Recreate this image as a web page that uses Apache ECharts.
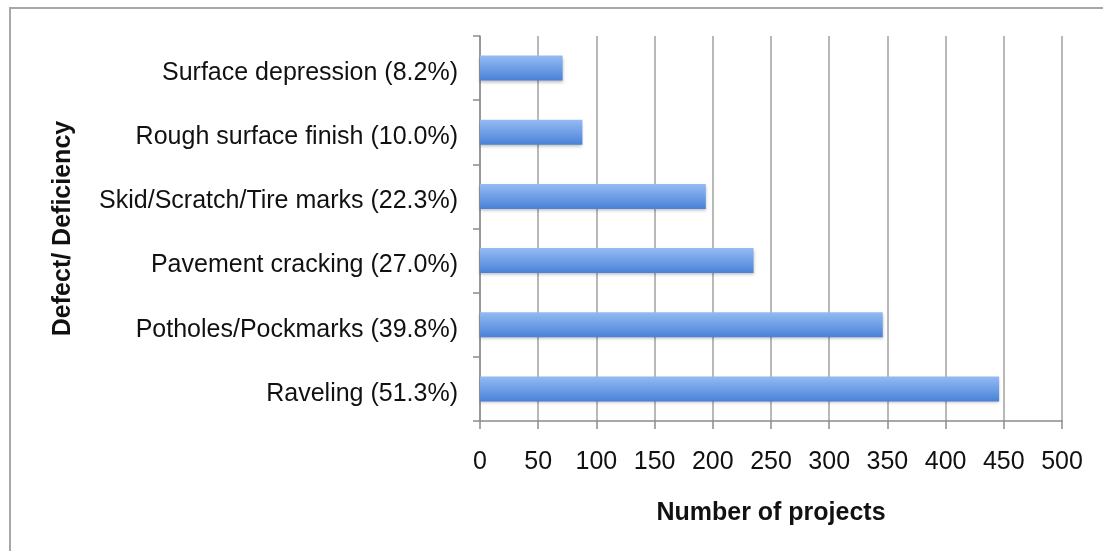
<!DOCTYPE html>
<html lang="en">
<head>
    <meta charset="UTF-8">
    <title>Defect / Deficiency</title>
    <style>
        body { margin: 0; background: #fff; }
        #chart { width: 1103px; height: 551px; }
    </style>
</head>
<body>
    <div id="chart"></div>
    <script src="https://cdn.jsdelivr.net/npm/echarts@6/dist/echarts.min.js"></script>
    <script>
        // categories top to bottom
        const categories = [
            'Surface depression (8.2%)',
            'Rough surface finish (10.0%)',
            'Skid/Scratch/Tire marks (22.3%)',
            'Pavement cracking (27.0%)',
            'Potholes/Pockmarks (39.8%)',
            'Raveling (51.3%)'
        ];
        const projects = [71, 88, 194, 235, 346, 446];
        const xTicks = [0, 500, 50];

        const chart = echarts.init(document.getElementById('chart'));
        const font = 'Liberation Sans, Arial, sans-serif';

        chart.setOption({
            animation: false,
            graphic: [{
                type: 'rect',
                shape: { x: 10, y: 8, width: 1200, height: 600 },
                style: { fill: 'none', stroke: '#a8a8a8', lineWidth: 2 }
            }],
            grid: { left: 480, right: 41, top: 36, bottom: 130 },
            xAxis: {
                type: 'value',
                min: xTicks[0], max: xTicks[1], interval: xTicks[2],
                name: 'Number of projects',
                nameLocation: 'middle',
                nameGap: 80,
                nameTextStyle: { fontFamily: font, fontSize: 25, fontWeight: 'bold', color: '#111' },
                axisLine: { show: true, lineStyle: { color: '#8c8c8c', width: 1.5 } },
                axisTick: { show: true, length: 8, lineStyle: { color: '#8c8c8c', width: 1.5 } },
                axisLabel: { fontFamily: font, fontSize: 25, color: '#111', margin: 29 },
                splitLine: { show: true, lineStyle: { color: '#a0a0a0', width: 1.5 } }
            },
            yAxis: {
                type: 'category',
                data: categories,
                inverse: true,
                name: 'Defect/ Deficiency',
                nameLocation: 'middle',
                nameGap: 404,
                nameRotate: 90,
                nameTextStyle: { fontFamily: font, fontSize: 25, fontWeight: 'bold', color: '#111' },
                axisLine: { show: true, lineStyle: { color: '#8c8c8c', width: 1.5 } },
                axisTick: { show: true, length: 7, lineStyle: { color: '#8c8c8c', width: 1.5 } },
                axisLabel: {
                    margin: 22,
                    formatter: function (v) { return '{a|' + v + '}'; },
                    rich: {
                        a: { fontFamily: font, fontSize: 25, color: '#111', padding: [10, 0, 0, 0] }
                    }
                },
                splitLine: { show: false }
            },
            series: [{
                type: 'bar',
                data: projects,
                barWidth: 25,
                itemStyle: {
                    color: new echarts.graphic.LinearGradient(0, 0, 0, 1, [
                        { offset: 0, color: '#94bbf3' },
                        { offset: 0.5, color: '#6f9fe6' },
                        { offset: 1, color: '#4a80d6' }
                    ]),
                    shadowColor: 'rgba(0,0,0,0.25)',
                    shadowBlur: 3,
                    shadowOffsetY: 2
                }
            }]
        });
    </script>
</body>
</html>
